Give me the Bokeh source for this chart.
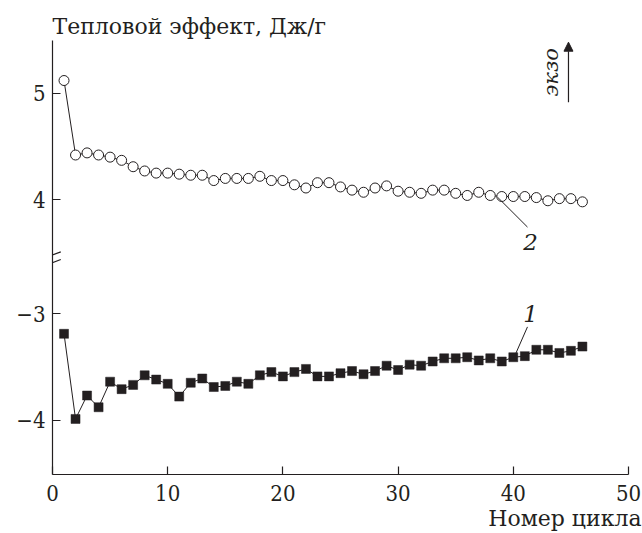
import math
from bokeh.plotting import figure
from bokeh.models import Arrow, NormalHead, Label, FixedTicker, Title
from bokeh.embed import file_html
from bokeh.resources import INLINE

# ---- data ----
cycles = list(range(1, 47))
heat_2 = [5.12, 4.42, 4.44, 4.42, 4.40, 4.37, 4.31, 4.27, 4.25, 4.25,
          4.24, 4.23, 4.23, 4.18, 4.20, 4.20, 4.20, 4.22, 4.18, 4.18,
          4.14, 4.11, 4.16, 4.16, 4.12, 4.09, 4.07, 4.11, 4.13, 4.08,
          4.07, 4.06, 4.09, 4.09, 4.06, 4.04, 4.07, 4.04, 4.03, 4.03,
          4.03, 4.02, 3.99, 4.01, 4.01, 3.98]
heat_1 = [-3.19, -3.99, -3.77, -3.88, -3.64, -3.71, -3.67, -3.58, -3.62, -3.66,
          -3.78, -3.65, -3.61, -3.69, -3.68, -3.64, -3.66, -3.58, -3.55, -3.59,
          -3.55, -3.52, -3.59, -3.59, -3.56, -3.54, -3.57, -3.54, -3.49, -3.53,
          -3.48, -3.49, -3.45, -3.42, -3.42, -3.41, -3.44, -3.42, -3.45, -3.41,
          -3.40, -3.34, -3.34, -3.37, -3.35, -3.31]
x_ticks = [0, 10, 20, 30, 40, 50]
upper_ticks = [4, 5]
lower_ticks = [-4, -3]

# broken axis: lower part shifted up by a constant offset
BREAK_OFFSET = 5.93
heat_1_disp = [v + BREAK_OFFSET for v in heat_1]

INK = "#231f20"
NUM_FONT = "DejaVu Serif Condensed, DejaVu Serif"
TXT_FONT = "DejaVu Serif"
NUM_FS = "22px"
TXT_FS = "22px"

p = figure(width=642, height=533, x_range=(0, 50), y_range=(1.418, 5.496),
           output_backend="svg", toolbar_location=None,
           min_border_left=52, min_border_right=14,
           min_border_top=40, min_border_bottom=59)
p.outline_line_color = None
p.xgrid.visible = False
p.ygrid.visible = False
p.background_fill_color = "white"

# top-left quantity label as the figure title
p.title.text = "Тепловой эффект, Дж/г"
p.title.text_font = TXT_FONT
p.title.text_font_size = TXT_FS
p.title.text_font_style = "normal"
p.title.text_color = INK
p.title.align = "left"
p.title.standoff = 3

# axes
for ax in (p.xaxis[0], p.yaxis[0]):
    ax.axis_line_color = INK
    ax.axis_line_width = 1.2
    ax.major_tick_line_color = INK
    ax.major_tick_line_width = 1.2
    ax.major_tick_in = 8
    ax.major_tick_out = 0
    ax.minor_tick_line_color = None
    ax.major_label_text_font = NUM_FONT
    ax.major_label_text_font_size = NUM_FS
    ax.major_label_text_color = INK

p.xaxis.ticker = FixedTicker(ticks=x_ticks)
p.xaxis.major_label_standoff = 10

y_tick_vals = [t + BREAK_OFFSET for t in lower_ticks] + upper_ticks
y_tick_text = ["\u2212" + str(abs(t)) for t in lower_ticks] + [str(t) for t in upper_ticks]
p.yaxis.ticker = FixedTicker(ticks=y_tick_vals)
p.yaxis.major_label_overrides = {v: s for v, s in zip(y_tick_vals, y_tick_text)}
p.yaxis.major_label_standoff = 7

# x quantity label, right aligned under the axis
p.add_layout(Title(text="Номер цикла", text_font=TXT_FONT, text_font_size=TXT_FS,
                   text_font_style="normal", text_color=INK, align="right",
                   offset=-13, standoff=0), "below")

# series 2 (open circles)
p.line(cycles, heat_2, line_color=INK, line_width=1)
p.scatter(cycles, heat_2, marker="circle", size=10, fill_color="white",
          line_color=INK, line_width=1)

# series 1 (filled squares)
p.line(cycles, heat_1_disp, line_color=INK, line_width=1)
p.scatter(cycles, heat_1_disp, marker="square", size=9, fill_color=INK,
          line_color=INK, line_width=0.5)

# leader lines and curve labels
p.line([38.63, 41.23], [4.024, 3.743], line_color=INK, line_width=1)
p.add_layout(Label(x=41.5, y=3.60, text="2", text_font=TXT_FONT, text_font_style="italic",
                   text_font_size="23px", text_color=INK, text_align="center",
                   text_baseline="middle"))
p.line([41.23, 40.22], [-3.125 + BREAK_OFFSET, -3.374 + BREAK_OFFSET],
       line_color=INK, line_width=1)
p.add_layout(Label(x=41.5, y=-3.0 + BREAK_OFFSET, text="1", text_font=TXT_FONT,
                   text_font_style="italic", text_font_size="23px", text_color=INK,
                   text_align="center", text_baseline="middle"))

# axis break marks
for (xa, ya, xb, yb) in [(-0.75, 3.452, 0.72, 3.510), (-0.75, 3.377, 0.72, 3.438)]:
    p.add_layout(Arrow(end=None, x_start=xa, y_start=ya, x_end=xb, y_end=yb,
                       line_color=INK, line_width=1.2))

# exo arrow
p.add_layout(Arrow(end=NormalHead(size=9, fill_color=INK, line_color=INK),
                   x_start=44.79, y_start=4.916, x_end=44.79, y_end=5.48,
                   line_color=INK, line_width=1.2))
p.add_layout(Label(x=43.23, y=5.198, text="экзо", angle=math.pi / 2,
                   text_font=TXT_FONT, text_font_style="italic", text_font_size="21px",
                   text_color=INK, text_align="center", text_baseline="middle"))

open("out.html", "w").write(file_html(p, INLINE))
